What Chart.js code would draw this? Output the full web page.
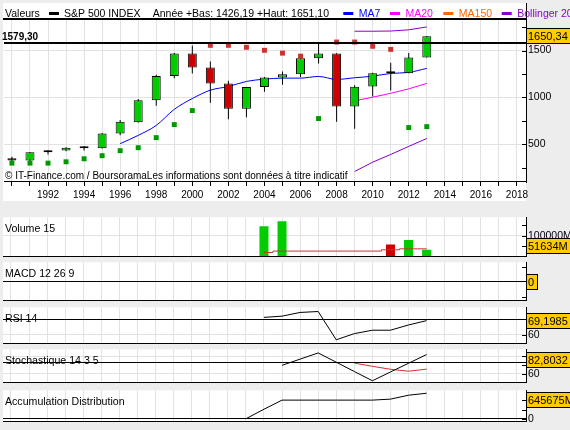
<!DOCTYPE html>
<html>
<head>
<meta charset="utf-8">
<script src="https://cdn.jsdelivr.net/npm/chart.js@4.4.1/dist/chart.umd.min.js"></script>
<style>
  body { margin: 0; background: #ededed; }
  #wrap { position: relative; width: 570px; height: 430px; overflow: hidden; }
  canvas { position: absolute; left: 0; }
</style>
</head>
<body>
<div id="wrap">
  <canvas id="mainChart"></canvas>
  <canvas id="volChart"></canvas>
  <canvas id="macdChart"></canvas>
  <canvas id="rsiChart"></canvas>
  <canvas id="stochChart"></canvas>
  <canvas id="adChart"></canvas>
</div>
<script>
// yearly candles
const years  = [1990, 1991, 1992, 1993, 1994, 1995, 1996, 1997, 1998, 1999, 2000, 2001, 2002, 2003, 2004, 2005, 2006, 2007, 2008, 2009, 2010, 2011, 2012, 2013];
const openV  = [353.4, 330.2, 417.0, 435.4, 466.5, 459.1, 615.9, 737.0, 970.4, 1229.2, 1469.3, 1320.3, 1148.1, 879.8, 1111.9, 1211.9, 1248.3, 1418.0, 1468.0, 903.0, 1116.6, 1257.6, 1258.9, 1426.2];
const highV  = [369.8, 418.3, 442.7, 471.3, 482.9, 621.7, 761.8, 983.8, 1241.8, 1473.1, 1553.1, 1383.4, 1176.9, 1112.6, 1217.3, 1275.8, 1431.8, 1576.1, 1471.8, 1130.4, 1262.6, 1370.6, 1474.5, 1651.1];
const lowV   = [295.5, 311.4, 394.5, 429.0, 435.9, 457.2, 597.3, 733.5, 912.8, 1205.5, 1254.1, 944.8, 768.6, 788.9, 1060.7, 1136.2, 1219.3, 1363.0, 741.0, 666.8, 1010.9, 1074.8, 1258.9, 1426.2];
const closeV = [330.2, 417.1, 435.7, 466.5, 459.3, 615.9, 740.7, 970.4, 1229.2, 1469.3, 1320.3, 1148.1, 879.8, 1111.9, 1211.9, 1248.3, 1418.3, 1468.4, 903.3, 1115.1, 1257.6, 1257.6, 1426.2, 1650.3];

const ma7Years = [1996, 1997, 1998, 1999, 2000, 2001, 2002, 2003, 2004, 2005, 2006, 2007, 2008, 2009, 2010, 2011, 2012, 2013];
const ma7      = [509, 597, 703, 874, 989, 1078, 1117, 1171, 1195, 1206, 1206, 1224, 1192, 1210, 1227, 1256, 1267, 1310];
const bandYears = [2009, 2010, 2011, 2012, 2013];
const ma20      = [965, 1003, 1045, 1092, 1150];
const bollUpper = [1705, 1705, 1707, 1720, 1751];
const bollLower = [213, 312, 394, 480, 564];

const sarUpYears = [2001, 2002, 2003, 2004, 2005, 2006, 2008, 2009, 2010, 2011];
const sarUp      = [1555, 1555, 1534, 1502, 1472, 1440, 1590, 1590, 1545, 1512];
const sarDnYears = [1990, 1991, 1992, 1993, 1994, 1995, 1996, 1997, 1998, 1999, 2000, 2007, 2012, 2013];
const sarDn      = [302, 302, 302, 316, 348, 381, 434, 466, 573, 712, 861, 776, 680, 690];

// volume in millions
const volYears = [2004, 2005, 2011, 2012, 2013];
const volume   = [146200, 169800, 58000, 80200, 33000];
const volMaYears = [2004, 2005, 2006, 2007, 2008, 2009, 2010, 2011, 2012, 2013];
const volMa      = [20300, 26900, 26900, 26900, 26900, 26900, 26900, 33000, 37700, 37700];

const rsiYears = [2004, 2005, 2006, 2007, 2008, 2009, 2010, 2011, 2012, 2013];
const rsi      = [71.3, 72.1, 74.5, 75.1, 56.8, 60.8, 63.0, 63.0, 66.4, 69.2];
const stochKYears = [2005, 2006, 2007, 2008, 2009, 2010, 2011, 2012, 2013];
const stochK      = [74.5, 85.0, 95.5, 79.8, 64.0, 48.3, 63.2, 78.0, 92.8];
const stochDYears = [2009, 2010, 2011, 2012, 2013];
const stochD      = [78.3, 72.8, 67.8, 64.5, 68.0];
const adYears = [2003, 2004, 2005, 2006, 2007, 2008, 2009, 2010, 2011, 2012, 2013];
const accDist = [0, 329600, 645700, 645700, 645700, 645700, 645700, 645700, 679700, 815600, 883600];

// last values shown in the boxes
const lastClose = 1650.34, lastVol = 51634, lastMacd = 0, lastRsi = 69.1985, lastStoch = 82.8032, lastAd = 645675;
const refLevel = 1579.30, yearLow = 1426.19, yearHigh = 1651.10;

const tickYears  = [1990, 1991, 1992, 1993, 1994, 1995, 1996, 1997, 1998, 1999, 2000, 2001, 2002, 2003, 2004, 2005, 2006, 2007, 2008, 2009, 2010, 2011, 2012, 2013, 2014, 2015, 2016, 2017, 2018];
const labelYears = [1992, 1994, 1996, 1998, 2000, 2002, 2004, 2006, 2008, 2010, 2012, 2014, 2016, 2018];
const legendNames = ['MA7', 'MA20', 'MA150', 'Bollinger 20'];

const FAMILY = "'Liberation Sans', Arial, Helvetica, sans-serif";
const GREEN = '#00cc00', RED = '#cc0000', GRID = '#e2e2e2';
const legendColors = ['#0000ff', '#ff00ff', '#ff6600', '#8800cc'];
const X_MIN = 1989.56, X_MAX = 2018.5;

const fr = v => String(v).replace('.', ',');
const fr2 = v => v.toFixed(2).replace('.', ',');
const pts = (xs, ys) => xs.map((x, i) => ({x: x, y: ys[i]}));
const colorOf = yr => { const i = years.indexOf(yr); return closeV[i] > openV[i] ? GREEN : RED; };

function xAxis(showLabels) {
  return {
    type: 'linear', min: X_MIN, max: X_MAX, offset: false,
    afterBuildTicks: s => { s.ticks = tickYears.map(v => ({value: v})); },
    afterFit: s => { s.height = showLabels ? 20 : 0; },
    grid: {color: GRID, offset: false, drawTicks: showLabels, tickLength: 4, tickColor: '#000'},
    border: {display: false},
    ticks: {display: showLabels, autoSkip: false, maxRotation: 0, minRotation: 0, padding: 3, color: '#000',
      font: {family: FAMILY, size: 10},
      callback: v => labelYears.includes(v) ? String(v) : ''}
  };
}

function yAxis(min, max, tickVals, labelVals, gridVals, suffix) {
  return {
    type: 'linear', position: 'right', min: min, max: max,
    afterBuildTicks: s => { s.ticks = tickVals.map(v => ({value: v})); },
    afterFit: s => { s.width = 44; },
    grid: {drawTicks: false, color: c => (c.tick && gridVals.includes(c.tick.value)) ? GRID : 'rgba(0,0,0,0)'},
    border: {display: true, color: '#000', width: 1},
    ticks: {autoSkip: false, padding: 2, color: '#000', font: {family: FAMILY, size: 10.5},
      callback: v => labelVals.includes(v) ? v + suffix : ''}
  };
}

// white plot area, level lines, tick marks, panel title, value box
const deco = {
  id: 'deco',
  beforeDraw(chart, args, o) {
    const {ctx, chartArea: a} = chart;
    ctx.save();
    ctx.fillStyle = '#fff';
    if (o.main) ctx.fillRect(3, 3, a.right - 3, 198);
    else ctx.fillRect(a.left, a.top, a.width, a.height);
    ctx.restore();
  },
  afterDatasetsDraw(chart, args, o) {
    const {ctx, chartArea: a} = chart;
    const y = chart.scales.y;
    ctx.save();
    ctx.fillStyle = '#000';
    (o.levels || []).forEach(l => {
      const py = Math.round(y.getPixelForValue(l.value) - l.width / 2);
      ctx.fillRect(a.left, py, a.width, l.width);
    });
    ctx.fillRect(a.left, Math.round(a.bottom) - 1, a.width, 1);
    y.ticks.forEach(t => {
      ctx.fillRect(a.right - 4, Math.round(y.getPixelForValue(t.value)), 4, 1);
    });
    if (o.label) {
      ctx.font = '10.6px ' + FAMILY;
      ctx.textBaseline = 'middle';
      ctx.fillText(o.label, 5, a.top + 11.5);
    }
    ctx.restore();
  },
  afterDraw(chart, args, o) {
    if (!o.box) return;
    const {ctx, chartArea: a} = chart;
    const py = Math.round(chart.scales.y.getPixelForValue(o.box.value));
    ctx.save();
    ctx.font = '11px ' + FAMILY;
    const w = Math.ceil(ctx.measureText(o.box.text).width) + 4;
    ctx.fillStyle = '#ffcc00';
    ctx.fillRect(a.right + 0.5, py - 7.5, w, 15);
    ctx.strokeStyle = '#000';
    ctx.lineWidth = 1;
    ctx.strokeRect(a.right + 0.5, py - 7.5, w, 15);
    ctx.fillStyle = '#000';
    ctx.textBaseline = 'middle';
    ctx.fillText(o.box.text, a.right + 2, py + 0.5);
    ctx.restore();
  }
};

// header legend, reference level label and footer of the price panel
const mainDeco = {
  id: 'mainDeco',
  afterDatasetsDraw(chart) {
    const {ctx, chartArea: a} = chart;
    ctx.save();
    ctx.fillStyle = '#000';
    ctx.fillRect(3, 18, a.right - 3, 2);
    ctx.fillRect(a.right, 3, 1, a.top - 3);
    ctx.font = 'bold 10px ' + FAMILY;
    ctx.fillText(fr2(refLevel), 2, 39.5);
    ctx.font = '10px ' + FAMILY;
    ctx.fillText('\u00a9 IT-Finance.com / BoursoramaLes informations sont donn\u00e9es \u00e0 titre indicatif', 5, 179);
    ctx.font = '10.5px ' + FAMILY;
    ctx.fillText('Valeurs', 5, 16.5);
    ctx.fillRect(49, 12, 10, 3);
    ctx.fillText('S&P 500 INDEX', 64, 16.5);
    ctx.fillText('Ann\u00e9e +Bas: ' + fr2(yearLow) + ' +Haut: ' + fr2(yearHigh), 152.7, 16.5);
    const sw = [343.3, 390, 443.3, 501.7];
    legendNames.forEach((n, i) => {
      ctx.fillStyle = legendColors[i];
      ctx.fillRect(sw[i], 12, 10, 3);
      ctx.fillText(n, sw[i] + 15.5, 16.5);
    });
    ctx.restore();
  }
};

const baseOpts = {responsive: false, animation: false, events: []};

// price panel
const mainCv = document.getElementById('mainChart');
mainCv.width = 570; mainCv.height = 202; mainCv.style.top = '0px';
new Chart(mainCv, {
  type: 'bar',
  data: {
    datasets: [
      {type: 'line', data: pts(sarUpYears, sarUp), showLine: false, pointStyle: 'rect', pointRadius: 3.5,
        pointBackgroundColor: '#cc3333', pointBorderWidth: 0, order: 0},
      {type: 'line', data: pts(sarDnYears, sarDn), showLine: false, pointStyle: 'rect', pointRadius: 3.5,
        pointBackgroundColor: '#009900', pointBorderWidth: 0, order: 0},
      {type: 'bar', data: years.map((yr, i) => ({x: yr, y: [openV[i], closeV[i]]})),
        backgroundColor: years.map(colorOf), borderColor: '#000', borderWidth: 1, borderSkipped: false,
        grouped: false, barThickness: 9, maxBarThickness: 9, minBarLength: 2, inflateAmount: 0, order: 1},
      {type: 'bar', data: years.map((yr, i) => ({x: yr, y: [lowV[i], highV[i]]})),
        backgroundColor: '#000', borderWidth: 0, grouped: false, barThickness: 1, maxBarThickness: 1,
        inflateAmount: 0, order: 2},
      {type: 'line', data: pts(ma7Years, ma7), borderColor: legendColors[0], borderWidth: 1, pointRadius: 0,
        cubicInterpolationMode: 'monotone', order: 3},
      {type: 'line', data: pts(bandYears, ma20), borderColor: legendColors[1], borderWidth: 1, pointRadius: 0, order: 3},
      {type: 'line', data: pts(bandYears, bollUpper), borderColor: legendColors[3], borderWidth: 1, pointRadius: 0, order: 3},
      {type: 'line', data: pts(bandYears, bollLower), borderColor: legendColors[3], borderWidth: 1, pointRadius: 0, order: 3}
    ]
  },
  options: Object.assign({}, baseOpts, {
    layout: {padding: {left: 3, right: 0, top: 20, bottom: 0}},
    plugins: {legend: {display: false}, tooltip: {enabled: false},
      deco: {main: true, levels: [{value: refLevel, width: 2}], box: {value: lastClose, text: fr2(lastClose)}}},
    scales: {
      x: xAxis(true),
      y: yAxis(101, 1824.5, [250, 500, 750, 1000, 1250, 1500, 1750], [500, 1000, 1500], [500, 1000, 1500], '')
    }
  }),
  plugins: [deco, mainDeco]
});

function panel(id, top, bottom, yOpts, datasets, decoOpts) {
  const cv = document.getElementById(id);
  cv.width = 570;
  cv.height = bottom - top + 16;
  cv.style.top = (top - 8) + 'px';
  return new Chart(cv, {
    type: 'bar',
    data: {datasets: datasets},
    options: Object.assign({}, baseOpts, {
      layout: {padding: {left: 3, right: 0, top: 8, bottom: 8}},
      plugins: {legend: {display: false}, tooltip: {enabled: false}, deco: decoOpts},
      scales: {x: xAxis(false), y: yOpts}
    }),
    plugins: [deco]
  });
}

panel('volChart', 217, 257,
  yAxis(0, 188700, [50000, 100000, 150000], [100000], [100000], 'M'),
  [
    {type: 'line', data: pts(volMaYears, volMa), borderColor: '#c83232', borderWidth: 1, pointRadius: 0,
      stepped: 'middle', order: 0},
    {type: 'bar', data: pts(volYears, volume), backgroundColor: volYears.map(colorOf), borderWidth: 0,
      grouped: false, barThickness: 9, maxBarThickness: 9, inflateAmount: 0, order: 1}
  ],
  {label: 'Volume 15', box: {value: lastVol, text: fr(lastVol) + 'M'}});

panel('macdChart', 262, 301,
  yAxis(-0.95, 1.0, [-0.75, 0.75], [], [], ''),
  [],
  {label: 'MACD 12 26 9', levels: [{value: 0, width: 1}], box: {value: lastMacd, text: fr(lastMacd)}});

panel('rsiChart', 307, 344,
  yAxis(54.27, 77.83, [60, 70], [60], [60], ''),
  [{type: 'line', data: pts(rsiYears, rsi), borderColor: '#000', borderWidth: 1, pointRadius: 0}],
  {label: 'RSI 14', levels: [{value: 70, width: 1}], box: {value: lastRsi, text: fr(lastRsi)}});

panel('stochChart', 349, 383,
  yAxis(45, 101.67, [60, 75, 90], [60], [60, 90], ''),
  [
    {type: 'line', data: pts(stochKYears, stochK), borderColor: '#000', borderWidth: 1, pointRadius: 0},
    {type: 'line', data: pts(stochDYears, stochD), borderColor: '#cc3333', borderWidth: 1, pointRadius: 0}
  ],
  {label: 'Stochastique 14 3 5', levels: [{value: 80, width: 1}], box: {value: lastStoch, text: fr(lastStoch)}});

panel('adChart', 390, 422,
  yAxis(-101950, 985500, [0, 320000, 640000], [0], [], ''),
  [{type: 'line', data: pts(adYears, accDist), borderColor: '#000', borderWidth: 1, pointRadius: 0}],
  {label: 'Accumulation Distribution', levels: [{value: 0, width: 1}], box: {value: lastAd, text: fr(lastAd) + 'M'}});
</script>
</body>
</html>
